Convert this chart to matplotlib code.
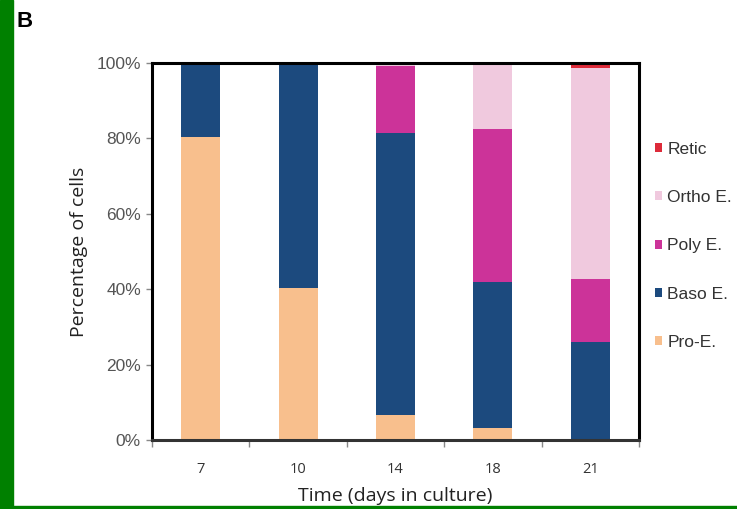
import matplotlib
matplotlib.use("Agg")
import matplotlib.pyplot as plt
import numpy as np
from matplotlib.patches import Rectangle
from matplotlib.ticker import PercentFormatter

# Jours de culture et proportions (%) de chaque stade
jours = ["7", "10", "14", "18", "21"]
stades = ["Pro-E.", "Baso E.", "Poly E.", "Ortho E.", "Retic"]
pro_e = [80.4, 40.3, 6.6, 3.2, 0.0]
baso_e = [19.6, 59.7, 74.8, 38.7, 25.9]
poly_e = [0.0, 0.0, 17.8, 40.5, 16.7]
ortho_e = [0.0, 0.0, 0.8, 17.6, 56.0]
retic = [0.0, 0.0, 0.0, 0.0, 1.4]
couleurs = ["#F8BF8D", "#1C4A7E", "#CC3399", "#F0C9DE", "#DD2B3A"]

fig = plt.figure(figsize=(7.37, 5.09), dpi=100)

# Bande verte a gauche et filet vert en bas
fig.patches.append(Rectangle((0, 0), 13 / 737, 1, transform=fig.transFigure,
                             color="#008000", zorder=0))
fig.patches.append(Rectangle((0, 0), 1, 3 / 509, transform=fig.transFigure,
                             color="#008000", zorder=0))

ax = fig.add_axes([152 / 737, 69 / 509, 487 / 737, 377 / 509])

x = np.arange(len(jours))
bas = np.zeros(len(jours))
for nom, valeurs, c in zip(stades, [pro_e, baso_e, poly_e, ortho_e, retic], couleurs):
    ax.bar(x, valeurs, width=0.4, bottom=bas, color=c, label=nom, zorder=2)
    bas += np.array(valeurs)

ax.set_xlim(-0.5, len(jours) - 0.5)
ax.set_ylim(0, 100)

# Cadre
for cote in ["left", "top", "right"]:
    ax.spines[cote].set_linewidth(2.2)
    ax.spines[cote].set_color("black")
ax.spines["bottom"].set_linewidth(2.2)
ax.spines["bottom"].set_color("#333333")

ax.set_yticks([0, 20, 40, 60, 80, 100])
ax.yaxis.set_major_formatter(PercentFormatter(decimals=0))
ax.tick_params(axis="y", direction="out", length=4, width=1, color="#888888",
               labelsize=12.5, labelcolor="#555555", pad=4)
for lab in ax.get_yticklabels():
    lab.set_fontfamily("Liberation Sans")

# Graduations x entre les categories, etiquettes au centre
ax.set_xticks(np.arange(-0.5, len(jours), 1.0))
ax.set_xticklabels([])
ax.tick_params(axis="x", which="major", direction="out", length=5, width=1,
               color="#888888")
ax.set_xticks(x, minor=True)
ax.set_xticklabels(jours, minor=True, fontfamily="Open Sans", fontsize=10.5,
                   color="#333333")
ax.tick_params(axis="x", which="minor", length=0, pad=16)

ax.set_xlabel("Time (days in culture)", fontfamily="Open Sans", fontsize=14,
              color="#222222", labelpad=7)
ax.set_ylabel("Percentage of cells", fontfamily="Open Sans", fontsize=14,
              color="#222222", labelpad=6)

# Legende (ordre inverse)
poignees, etiquettes = ax.get_legend_handles_labels()
leg = ax.legend(poignees[::-1], etiquettes[::-1], loc="center left",
                frameon=False,
                prop={"family": "Liberation Sans", "size": 12.5},
                handlelength=0.42, handleheight=0.42, handletextpad=0.3,
                labelspacing=1.92, borderaxespad=0)
leg.set_bbox_to_anchor((1.018, 0.515), transform=ax.transAxes)
for t in leg.get_texts():
    t.set_color("#333333")

fig.text(16 / 737, 1 - 27 / 509, "B", fontsize=16, fontweight="bold",
         fontfamily="Liberation Sans")

fig.savefig("out.png", dpi=100)
